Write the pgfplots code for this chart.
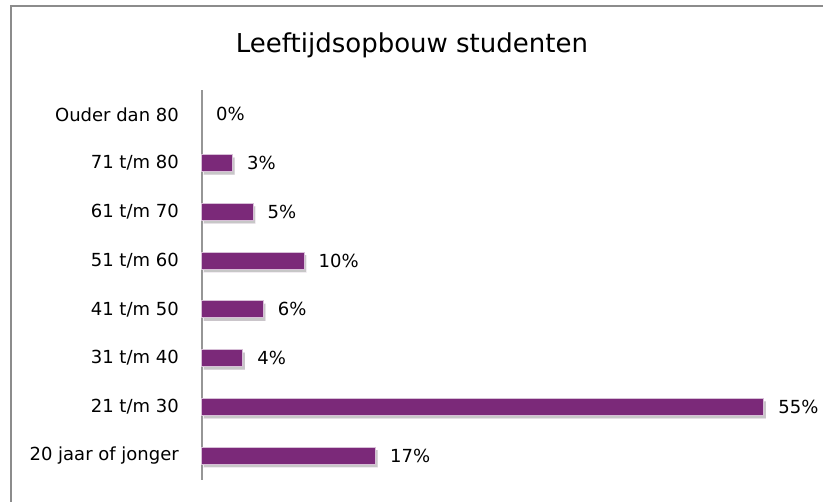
\documentclass[border=0pt]{standalone}
\usepackage{pgfplots}
\pgfplotsset{compat=1.18}
\usepackage{fontspec}
\setmainfont{DejaVu Sans}
\usetikzlibrary{shadows}
\definecolor{barcol}{RGB}{123,41,121}
\definecolor{framecol}{RGB}{140,140,140}
\definecolor{axcol}{RGB}{150,150,150}
\begin{document}
\begin{tikzpicture}[x=1pt,y=1pt]
\useasboundingbox (0,0) rectangle (823,502);
\clip (0,0) rectangle (823,502);
\draw[framecol, line width=2pt] (11,-20) rectangle (850,496);
\node[font=\fontsize{26}{30}\selectfont, anchor=base] at (412,449) {Leeftijdsopbouw studenten};
\begin{axis}[
  at={(202pt,22pt)}, anchor=south west,
  scale only axis, width=562pt, height=390pt,
  xmin=0, xmax=55, ymin=-0.5, ymax=7.5,
  xbar, bar width=17pt, bar shift=0pt,
  axis x line=none, axis y line=left,
  y axis line style={axcol, line width=1.5pt, -},
  ytick={0,1,2,3,4,5,6,7},
  yticklabels={20 jaar of jonger, 21 t/m 30, 31 t/m 40, 41 t/m 50, 51 t/m 60, 61 t/m 70, 71 t/m 80, Ouder dan 80},
  major tick length=0pt,
  yticklabel style={font=\fontsize{18}{20}\selectfont, inner sep=0pt, xshift=-23pt},
  /pgf/number format/assume math mode=true,
  point meta=x,
  nodes near coords={\pgfmathprintnumber{\pgfplotspointmeta}\%},
  every node near coord/.append style={font=\fontsize{18}{20}\selectfont, anchor=west, inner sep=0pt, xshift=14pt, black},
  clip=false,
]
\addplot[fill=barcol, draw=white!70!barcol, line width=1pt,
  drop shadow={shadow xshift=2pt, shadow yshift=-3pt, fill=black, opacity=0.22}]
  coordinates {(17,0) (55,1) (4,2) (6,3) (10,4) (5,5) (3,6)};
\addplot[draw=none, fill=none] coordinates {(0,7)};
\end{axis}
\end{tikzpicture}
\end{document}
